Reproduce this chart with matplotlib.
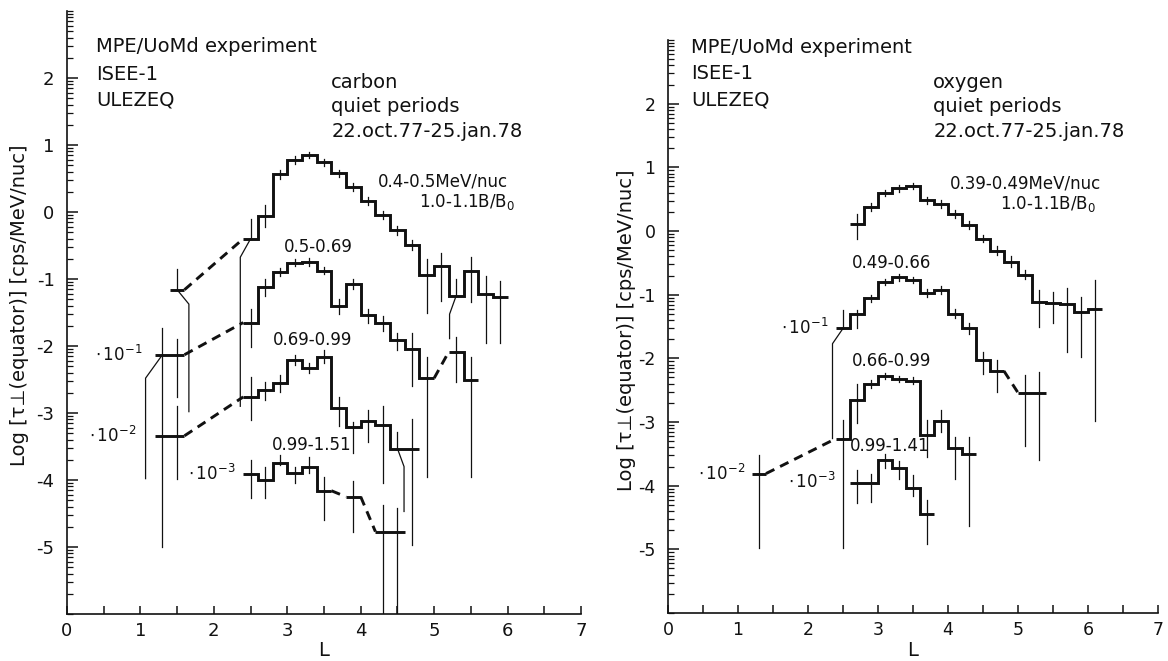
import matplotlib
matplotlib.use('Agg')
import matplotlib.pyplot as plt
import numpy as np

plt.rcParams['font.family'] = ['DejaVu Sans']
plt.rcParams['axes.unicode_minus'] = False
plt.rcParams['mathtext.fontset'] = 'dejavusans'

INK = '#111111'

# ---------------- carbon (left panel) ----------------
# bin centres in L (bins are 0.2 wide), log values, error-bar tops and bottoms
c1_L  = [1.5, 2.5, 2.7, 2.9, 3.1, 3.3, 3.5, 3.7, 3.9, 4.1, 4.3, 4.5, 4.7, 4.9, 5.1, 5.3, 5.5, 5.7, 5.9]
c1_v  = [-1.16, -0.40, -0.06, 0.56, 0.775, 0.85, 0.74, 0.575, 0.375, 0.16, -0.05, -0.275, -0.49, -0.94, -0.81, -1.25, -0.875, -1.225, -1.275]
c1_hi = [-0.85, -0.10, 0.10, 0.62, 0.83, 0.90, 0.79, 0.63, 0.43, 0.22, 0.01, -0.21, -0.42, -0.70, -0.61, -1.00, -0.675, -0.95, -1.025]
c1_lo = [-2.98, -2.90, -0.225, 0.50, 0.72, 0.80, 0.69, 0.52, 0.32, 0.10, -0.11, -0.34, -0.56, -1.50, -1.33, -1.89, -1.35, -1.96, -1.96]
c1_jog_L = [1.5, 2.5, 5.3]
c1_jog_x = [1.66, 2.36, 5.21]
c1_jog_y = [-1.375, -0.675, -1.525]

c2_L  = [1.3, 1.5, 2.5, 2.7, 2.9, 3.1, 3.3, 3.5, 3.7, 3.9, 4.1, 4.3, 4.5, 4.7, 4.9, 5.3, 5.5]
c2_v  = [-2.13, -2.13, -1.65, -1.125, -0.89, -0.755, -0.745, -0.875, -1.40, -1.075, -1.54, -1.65, -1.91, -2.05, -2.48, -2.085, -2.51]
c2_hi = [-1.73, -1.90, -1.45, -1.00, -0.83, -0.70, -0.69, -0.82, -1.30, -1.00, -1.45, -1.55, -1.80, -1.81, -2.16, -1.86, -2.16]
c2_lo = [-3.98, -2.76, -2.01, -1.25, -0.95, -0.81, -0.80, -0.93, -1.52, -1.15, -1.65, -1.78, -2.06, -2.60, -3.95, -2.53, -3.95]
c2_jog_L = [1.3]
c2_jog_x = [1.07]
c2_jog_y = [-2.48]

c3_L  = [1.3, 1.5, 2.5, 2.7, 2.9, 3.1, 3.3, 3.5, 3.7, 3.9, 4.1, 4.3, 4.5, 4.7]
c3_v  = [-3.34, -3.34, -2.76, -2.66, -2.55, -2.21, -2.33, -2.16, -2.93, -3.21, -3.12, -3.18, -3.53, -3.53]
c3_hi = [-2.15, -2.90, -2.46, -2.53, -2.43, -2.13, -2.26, -2.06, -2.76, -3.13, -2.96, -2.90, -3.28, -3.09]
c3_lo = [-5.00, -3.98, -3.10, -2.81, -2.68, -2.28, -2.41, -2.26, -3.20, -3.60, -3.43, -4.05, -4.47, -4.97]
c3_jog_L = [4.5]
c3_jog_x = [4.59]
c3_jog_y = [-3.80]

c4_L  = [2.5, 2.7, 2.9, 3.1, 3.3, 3.5, 3.9, 4.3, 4.5]
c4_v  = [-3.91, -4.00, -3.74, -3.90, -3.80, -4.16, -4.25, -4.77, -4.77]
c4_hi = [-3.70, -3.80, -3.63, -3.80, -3.65, -3.95, -4.02, -4.37, -4.42]
c4_lo = [-4.27, -4.27, -3.78, -4.05, -3.90, -4.60, -4.77, -6.0, -6.0]

# ---------------- oxygen (right panel) ----------------
o1_L  = [2.7, 2.9, 3.1, 3.3, 3.5, 3.7, 3.9, 4.1, 4.3, 4.5, 4.7, 4.9, 5.1, 5.3, 5.5, 5.7, 5.9, 6.1]
o1_v  = [0.107, 0.38, 0.60, 0.67, 0.70, 0.48, 0.42, 0.27, 0.09, -0.12, -0.31, -0.48, -0.69, -1.11, -1.13, -1.15, -1.27, -1.22]
o1_hi = [0.27, 0.44, 0.65, 0.72, 0.75, 0.53, 0.48, 0.33, 0.15, -0.06, -0.24, -0.40, -0.62, -0.92, -0.96, -0.90, -1.03, -0.77]
o1_lo = [-0.12, 0.32, 0.55, 0.62, 0.66, 0.43, 0.36, 0.21, 0.03, -0.18, -0.38, -0.57, -0.76, -1.51, -1.45, -1.90, -1.98, -2.98]

o2_L  = [2.5, 2.7, 2.9, 3.1, 3.3, 3.5, 3.7, 3.9, 4.1, 4.3, 4.5, 4.7, 5.1, 5.3]
o2_v  = [-1.53, -1.31, -1.06, -0.80, -0.73, -0.77, -0.97, -0.93, -1.30, -1.53, -2.02, -2.20, -2.54, -2.54]
o2_hi = [-1.24, -1.24, -1.00, -0.75, -0.68, -0.72, -0.91, -0.87, -1.23, -1.45, -1.90, -2.03, -2.26, -2.21]
o2_lo = [-3.26, -1.53, -1.12, -0.85, -0.78, -0.82, -1.03, -0.99, -1.37, -1.61, -2.24, -2.53, -3.38, -3.60]
o2_jog_L = [2.5]
o2_jog_x = [2.35]
o2_jog_y = [-1.77]

o3_L  = [1.3, 2.5, 2.7, 2.9, 3.1, 3.3, 3.5, 3.7, 3.9, 4.1, 4.3]
o3_v  = [-3.81, -3.26, -2.65, -2.40, -2.28, -2.32, -2.35, -3.21, -2.99, -3.41, -3.51]
o3_hi = [-3.52, -2.97, -2.40, -2.34, -2.23, -2.27, -2.30, -2.97, -2.81, -3.23, -3.23]
o3_lo = [-4.98, -4.98, -3.02, -2.46, -2.33, -2.37, -2.40, -3.55, -3.15, -3.89, -4.64]

o4_L  = [2.7, 2.9, 3.1, 3.3, 3.5, 3.7]
o4_v  = [-3.96, -3.96, -3.59, -3.73, -4.03, -4.45]
o4_hi = [-3.75, -3.81, -3.51, -3.62, -3.83, -4.23]
o4_lo = [-4.27, -4.25, -3.73, -3.89, -4.17, -4.91]

x_ticklabels = ['0', '1', '2', '3', '4', '5', '6', '7']
y_ticklabels = ['-5', '-4', '-3', '-2', '-1', '0', '1', '2']

BIN = 0.2


def draw_series(ax, L, v, hi, lo, jog_L=(), jog_x=(), jog_y=()):
    L = np.asarray(L, float)
    v = np.asarray(v, float)
    runs = []
    start = 0
    for i in range(1, len(L)):
        if abs(L[i] - L[i - 1] - BIN) > 0.01:
            runs.append((start, i))
            start = i
    runs.append((start, len(L)))
    for a, b in runs:
        edges = np.append(L[a:b] - BIN / 2, L[b - 1] + BIN / 2)
        ax.stairs(v[a:b], edges, baseline=None, color=INK, lw=2.1)
    for (a1, b1), (a2, b2) in zip(runs[:-1], runs[1:]):
        ax.plot([L[b1 - 1] + BIN / 2, L[a2] - BIN / 2], [v[b1 - 1], v[a2]],
                ls=(0, (3.2, 2.2)), color=INK, lw=2.1)
    jogs = {round(a, 2): (b, c) for a, b, c in zip(jog_L, jog_x, jog_y)}
    for x, y, h, l in zip(L, v, hi, lo):
        ax.plot([x, x], [y, h], color=INK, lw=0.9)
        key = round(x, 2)
        if key in jogs:
            jx, jy = jogs[key]
            ax.plot([x, jx, jx], [y, jy, l], color=INK, lw=0.9)
        else:
            ax.plot([x, x], [y, l], color=INK, lw=0.9)


def setup_axes(ax, fs):
    ax.set_xlim(0, 7)
    ax.set_ylim(-6, 3)
    for s in ('top', 'right'):
        ax.spines[s].set_visible(False)
    for s in ('left', 'bottom'):
        ax.spines[s].set_linewidth(1.2)
        ax.spines[s].set_color(INK)
    ax.set_xticks(np.arange(0, 8))
    ax.set_xticklabels(x_ticklabels)
    ax.set_xticks(np.arange(0.5, 7, 1.0), minor=True)
    ax.set_yticks(np.arange(-5, 3))
    ax.set_yticklabels(y_ticklabels)
    minor = [n + np.log10(k) for n in range(-6, 3) for k in range(2, 10)]
    minor += [-6.0, 3.0]
    ax.set_yticks(minor, minor=True)
    ax.tick_params(axis='x', which='both', direction='in', length=6, width=1.1,
                   labelsize=fs, pad=6, colors=INK)
    ax.tick_params(axis='y', which='major', direction='in', length=8, width=1.1,
                   labelsize=fs, pad=9, colors=INK)
    ax.tick_params(axis='y', which='minor', direction='in', length=4, width=0.9, colors=INK)


W, H = 1168, 661
fig = plt.figure(figsize=(W / 100, H / 100), dpi=100)
axL = fig.add_axes([67 / W, 47 / H, 514 / W, 603 / H])
axR = fig.add_axes([668 / W, 48 / H, 490 / W, 573 / H])

setup_axes(axL, 13)
setup_axes(axR, 12.5)

ylab = 'Log [\u03c4\u22a5(equator)] [cps/MeV/nuc]'
fig.text(20 / W, 1 - 305 / H, ylab, rotation=90, fontsize=14, ha='center', va='center', color=INK)
fig.text(626 / W, 1 - 330 / H, ylab, rotation=90, fontsize=14, ha='center', va='center', color=INK)
fig.text((67 + 3.5 * 514 / 7) / W, 1 - 651 / H, 'L', fontsize=14, ha='center', va='center', color=INK)
fig.text((668 + 3.5 * 490 / 7) / W, 1 - 651 / H, 'L', fontsize=14, ha='center', va='center', color=INK)

# left panel
draw_series(axL, c1_L, c1_v, c1_hi, c1_lo, c1_jog_L, c1_jog_x, c1_jog_y)
draw_series(axL, c2_L, c2_v, c2_hi, c2_lo, c2_jog_L, c2_jog_x, c2_jog_y)
draw_series(axL, c3_L, c3_v, c3_hi, c3_lo, c3_jog_L, c3_jog_x, c3_jog_y)
draw_series(axL, c4_L, c4_v, c4_hi, c4_lo)

# right panel
draw_series(axR, o1_L, o1_v, o1_hi, o1_lo)
draw_series(axR, o2_L, o2_v, o2_hi, o2_lo, o2_jog_L, o2_jog_x, o2_jog_y)
draw_series(axR, o3_L, o3_v, o3_hi, o3_lo)
draw_series(axR, o4_L, o4_v, o4_hi, o4_lo)

big = dict(fontsize=14, color=INK, va='center', ha='left')
small = dict(fontsize=12, color=INK, va='center')

# left header
axL.text(0.40, 2.47, 'MPE/UoMd experiment', **big)
axL.text(0.40, 2.05, 'ISEE-1', **big)
axL.text(0.40, 1.67, 'ULEZEQ', **big)
axL.text(3.60, 1.94, 'carbon', **big)
axL.text(3.60, 1.57, 'quiet periods', **big)
axL.text(3.60, 1.20, '22.oct.77-25.jan.78', **big)

# right header
axR.text(0.33, 2.89, 'MPE/UoMd experiment', **big)
axR.text(0.33, 2.47, 'ISEE-1', **big)
axR.text(0.33, 2.05, 'ULEZEQ', **big)
axR.text(3.79, 2.34, 'oxygen', **big)
axR.text(3.79, 1.95, 'quiet periods', **big)
axR.text(3.79, 1.56, '22.oct.77-25.jan.78', **big)

# left labels
axL.text(4.23, 0.46, '0.4-0.5MeV/nuc', ha='left', **small)
axL.text(4.80, 0.15, '1.0-1.1B/B$_0$', ha='left', **small)
axL.text(3.42, -0.52, '0.5-0.69', ha='center', **small)
axL.text(3.34, -1.91, '0.69-0.99', ha='center', **small)
axL.text(3.33, -3.48, '0.99-1.51', ha='center', **small)
axL.text(1.03, -2.13, r'$\cdot\,10^{-1}$', ha='right', **small)
axL.text(0.94, -3.34, r'$\cdot\,10^{-2}$', ha='right', **small)
axL.text(2.29, -3.91, r'$\cdot\,10^{-3}$', ha='right', **small)

# right labels
axR.text(4.02, 0.74, '0.39-0.49MeV/nuc', ha='left', **small)
axR.text(4.75, 0.42, '1.0-1.1B/B$_0$', ha='left', **small)
axR.text(3.20, -0.51, '0.49-0.66', ha='center', **small)
axR.text(3.20, -2.04, '0.66-0.99', ha='center', **small)
axR.text(3.16, -3.38, '0.99-1.41', ha='center', **small)
axR.text(2.29, -1.53, r'$\cdot\,10^{-1}$', ha='right', **small)
axR.text(1.10, -3.81, r'$\cdot\,10^{-2}$', ha='right', **small)
axR.text(2.40, -3.94, r'$\cdot\,10^{-3}$', ha='right', **small)

fig.savefig('out.png', dpi=100, facecolor='white')
